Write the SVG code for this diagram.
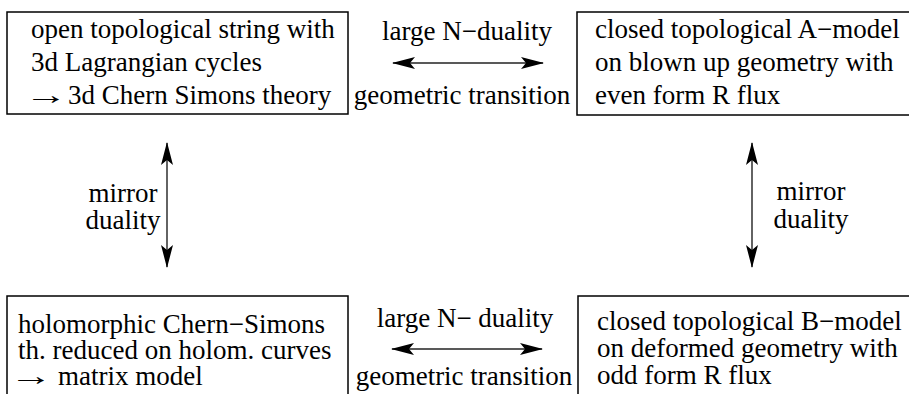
<svg xmlns="http://www.w3.org/2000/svg" width="909" height="394" viewBox="0 0 909 394">
<defs>
<style>
.box{fill:#fff;stroke:#000;stroke-width:1.5}
text{font-family:"Liberation Serif","Times New Roman",serif;font-size:27px;fill:#000}
.mid{text-anchor:middle}
.conn{stroke:#222;stroke-width:1.4;fill:none;marker-start:url(#ah);marker-end:url(#ah)}
</style>
<marker id="ah" viewBox="0 0 23 12" refX="22" refY="6" markerWidth="23" markerHeight="12" markerUnits="userSpaceOnUse" orient="auto-start-reverse">
<path d="M0,0 L23,6 L0,12 L5,6 Z" fill="#000"/>
</marker>
</defs>
<rect width="909" height="394" fill="#fff"/>
<g id="connectors">
<line class="conn" x1="393" y1="63" x2="543" y2="63"/>
<line class="conn" x1="392" y1="349" x2="542" y2="349"/>
<line class="conn" x1="167" y1="143" x2="167" y2="267"/>
<line class="conn" x1="752" y1="143" x2="752" y2="267"/>
<text class="mid" x="467" y="40">large N−duality</text>
<text class="mid" x="462" y="104">geometric transition</text>
<text class="mid" x="465" y="327">large N− duality</text>
<text class="mid" x="464" y="385">geometric transition</text>
<text class="mid" x="123" y="202">mirror</text>
<text class="mid" x="123" y="229">duality</text>
<text class="mid" x="811" y="200">mirror</text>
<text class="mid" x="811" y="228">duality</text>
</g>
<g id="open-string">
<rect class="box" x="7" y="12" width="341" height="102"/>
<text x="31" y="38">open topological string with</text>
<text x="31" y="71">3d Lagrangian cycles</text>
<text transform="translate(24,104) scale(1.6,1)">→</text>
<text x="68" y="104">3d Chern Simons theory</text>
</g>
<g id="a-model">
<rect class="box" x="577" y="12" width="340" height="103"/>
<text x="595" y="38">closed topological A−model</text>
<text x="595" y="71">on blown up geometry with</text>
<text x="595" y="104">even form R flux</text>
</g>
<g id="holomorphic-cs">
<rect class="box" x="7" y="296" width="341" height="110"/>
<text x="18" y="333">holomorphic Chern−Simons</text>
<text x="18" y="359">th. reduced on holom. curves</text>
<text transform="translate(9,385) scale(1.6,1)">→</text>
<text x="58" y="385">matrix model</text>
</g>
<g id="b-model">
<rect class="box" x="578" y="296" width="340" height="110"/>
<text x="597" y="330">closed topological B−model</text>
<text x="597" y="357">on deformed geometry with</text>
<text x="597" y="384">odd form R flux</text>
</g>
</svg>
